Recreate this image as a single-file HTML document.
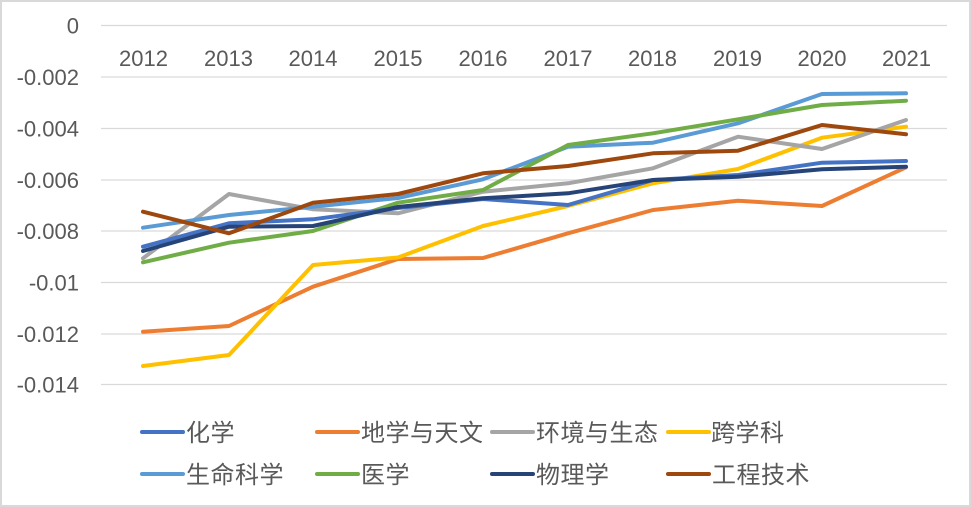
<!DOCTYPE html>
<html>
<head>
<meta charset="utf-8">
<style>
html,body{margin:0;padding:0;background:#fff;}
svg{display:block;}
text{font-family:"Liberation Sans","Noto Sans CJK SC",sans-serif;fill:#595959;}
</style>
</head>
<body>
<svg width="971" height="507" viewBox="0 0 971 507" xmlns="http://www.w3.org/2000/svg">
<rect x="0" y="0" width="971" height="507" fill="#fff"/>
<rect x="1" y="1" width="969" height="505" fill="none" stroke="#d9d9d9" stroke-width="2"/>
<g stroke="#d9d9d9" stroke-width="1.3">
<line x1="101" y1="25.5" x2="947" y2="25.5"/>
<line x1="101" y1="77" x2="947" y2="77"/>
<line x1="101" y1="128.5" x2="947" y2="128.5"/>
<line x1="101" y1="180" x2="947" y2="180"/>
<line x1="101" y1="231" x2="947" y2="231"/>
<line x1="101" y1="282.5" x2="947" y2="282.5"/>
<line x1="101" y1="334" x2="947" y2="334"/>
<line x1="101" y1="384.5" x2="947" y2="384.5"/>
</g>
<g font-size="22" text-anchor="end">
<text x="79" y="33.5">0</text>
<text x="79" y="85">-0.002</text>
<text x="79" y="136.5">-0.004</text>
<text x="79" y="188">-0.006</text>
<text x="79" y="239">-0.008</text>
<text x="79" y="290.5">-0.01</text>
<text x="79" y="342">-0.012</text>
<text x="79" y="392.5">-0.014</text>
</g>
<g font-size="22" text-anchor="middle">
<text x="143.5" y="66">2012</text>
<text x="228.5" y="66">2013</text>
<text x="313" y="66">2014</text>
<text x="398" y="66">2015</text>
<text x="483" y="66">2016</text>
<text x="568" y="66">2017</text>
<text x="652.5" y="66">2018</text>
<text x="737.5" y="66">2019</text>
<text x="822" y="66">2020</text>
<text x="906.5" y="66">2021</text>
</g>
<g fill="none" stroke-width="4" stroke-linejoin="round" stroke-linecap="round">
<!-- 地学与天文 -->
<polyline stroke="#ED7D31" points="143,331.7 229,326 313,286.7 398,259 483,258 568,233.3 653,210 738,200.7 822,206 906,167.3"/>
<!-- 跨学科 -->
<polyline stroke="#FFC000" points="143,366 229,355 313,265 398,257.5 483,226 568,206 653,183.3 738,169 822,137.7 906,126.7"/>
<!-- 环境与生态 -->
<polyline stroke="#A5A5A5" points="143,258.3 229,194 313,209.3 398,213.3 483,191.7 568,183.3 653,168.3 738,136.7 822,149 906,120"/>
<!-- 生命科学 -->
<polyline stroke="#5B9BD5" points="143,227.7 229,215 313,206.7 398,198 483,179.3 568,146.7 653,142.7 738,123.3 822,94 906,93.3"/>
<!-- 医学 -->
<polyline stroke="#70AD47" points="143,262.3 229,242.7 313,231 398,202.7 483,190 568,145 653,133.3 738,119.3 822,105 906,100.7"/>
<!-- 化学 -->
<polyline stroke="#4472C4" points="143,246.7 229,223.3 313,219.3 398,208 483,199 568,205 653,180 738,175 822,162.7 906,161"/>
<!-- 物理学 -->
<polyline stroke="#264478" points="143,251 229,226.7 313,226 398,207 483,198.3 568,193.3 653,180 738,176.7 822,169.3 906,166.7"/>
<!-- 工程技术 -->
<polyline stroke="#9E480E" points="143,211.7 229,233.3 313,202.7 398,194 483,173.3 568,166 653,153.3 738,150.7 822,125 906,134.3"/>
</g>
<g stroke-width="4" stroke-linecap="round">
<line x1="142" y1="432" x2="183" y2="432" stroke="#4472C4"/>
<line x1="317" y1="432" x2="358" y2="432" stroke="#ED7D31"/>
<line x1="492" y1="432" x2="533" y2="432" stroke="#A5A5A5"/>
<line x1="668" y1="432" x2="709" y2="432" stroke="#FFC000"/>
<line x1="142" y1="474" x2="183" y2="474" stroke="#5B9BD5"/>
<line x1="317" y1="474" x2="358" y2="474" stroke="#70AD47"/>
<line x1="492" y1="474" x2="533" y2="474" stroke="#264478"/>
<line x1="668" y1="474" x2="709" y2="474" stroke="#9E480E"/>
</g>
<g font-size="24" style="font-family:'Noto Sans CJK SC','WenQuanYi Zen Hei',sans-serif;">
<text x="186" y="441" letter-spacing="0.5">化学</text>
<text x="361" y="441" letter-spacing="0.5">地学与天文</text>
<text x="536" y="441" letter-spacing="0.5">环境与生态</text>
<text x="711" y="441" letter-spacing="0.5">跨学科</text>
<text x="186" y="483" letter-spacing="0.5">生命科学</text>
<text x="361" y="483" letter-spacing="0.5">医学</text>
<text x="536" y="483" letter-spacing="0.5">物理学</text>
<text x="712" y="483" letter-spacing="0.5">工程技术</text>
</g>
</svg>
</body>
</html>
